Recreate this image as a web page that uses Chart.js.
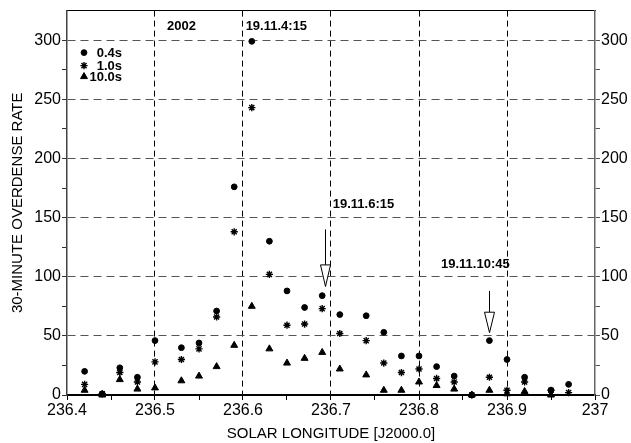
<!DOCTYPE html>
<html>
<head>
<meta charset="utf-8">
<script src="https://cdn.jsdelivr.net/npm/chart.js@4.4.1/dist/chart.umd.min.js"></script>
<style>
  html, body { margin: 0; padding: 0; background: #fff; }
  #wrap { width: 631px; height: 443px; }
</style>
</head>
<body>
<div id="wrap"><canvas id="rateChart" width="631" height="443"></canvas></div>
<script>
'use strict';

// solar longitude of each 30-minute bin
let longitudes = [236.42, 236.44, 236.46, 236.48, 236.50, 236.53, 236.55, 236.57, 236.59, 236.61,
  236.63, 236.65, 236.67, 236.69, 236.71, 236.74, 236.76, 236.78, 236.80, 236.82,
  236.84, 236.86, 236.88, 236.90, 236.92, 236.95, 236.97];

let rate04 = [20, 1, 23, 15, 46, 40, 44, 71, 176, 299, 130, 88, 74, 84, 68, 67, 53, 33, 33, 24,
  16, 0, 46, 30, 15, 4, 9];
let rate10 = [9, 1, 19, 11, 28, 30, 39, 66, 138, 243, 102, 59, 60, 73, 52, 46, 27, 19, 22, 14,
  11, 0, 15, 4, 11, 4, 2];
let rate100 = [4, 0, 13, 5, 6, 12, 16, 24, 42, 75, 39, 27, 31, 36, 22, 17, 4, 4, 11, 8,
  5, 0, 4, 1, 3, 0, null];

let seriesNames = ['0.4s', '1.0s', '10.0s'];

// [text, longitude, rate, align]
let notes = [
  ['2002', 236.53, 312, 'center'],
  ['19.11.4:15', 236.603, 312, 'left'],
  ['19.11.6:15', 236.702, 161, 'left'],
  ['19.11.10:45', 236.825, 110.6, 'left']
];
// [longitude, shaft top, head top, tip]
let arrows = [
  [236.6935, 140, 110, 91.7],
  [236.8795, 88, 70, 52.7]
];

let xMin = 236.4;
let xMax = 237;
let yMax = 325;

const FONT = '"Liberation Sans", Arial, Helvetica, sans-serif';

function toPoints(values) {
  let pts = [];
  for (let i = 0; i < longitudes.length; i++) {
    if (values[i] !== null) {
      pts.push({ x: longitudes[i], y: values[i] });
    }
  }
  return pts;
}

function isMajorX(v) {
  let n = Math.round(v * 100);
  return n % 10 === 0;
}

let markerKey = {
  id: 'markerKey',
  afterDatasetsDraw(chart) {
    let ctx = chart.ctx;
    let area = chart.chartArea;
    let rows = [42, 55, 66];
    ctx.save();
    ctx.fillStyle = '#000';
    ctx.strokeStyle = '#000';
    ctx.font = 'bold 13px ' + FONT;
    ctx.textAlign = 'right';
    ctx.textBaseline = 'middle';
    chart.data.datasets.forEach((ds, i) => {
      let y = area.top + rows[i];
      ctx.lineWidth = ds.borderWidth;
      Chart.helpers.drawPoint(ctx, {
        pointStyle: ds.pointStyle,
        radius: ds.pointRadius,
        rotation: 0,
        borderWidth: ds.borderWidth
      }, area.left + 17, y);
      ctx.fillText(seriesNames[i], area.left + 55, y + 1);
    });
    ctx.restore();
  }
};

let noteLayer = {
  id: 'noteLayer',
  afterDatasetsDraw(chart) {
    let ctx = chart.ctx;
    let xs = chart.scales.x;
    let ys = chart.scales.y;
    ctx.save();
    ctx.fillStyle = '#000';
    ctx.font = 'bold 13px ' + FONT;
    ctx.textBaseline = 'middle';
    for (let i = 0; i < notes.length; i++) {
      ctx.textAlign = notes[i][3];
      ctx.fillText(notes[i][0], xs.getPixelForValue(notes[i][1]), ys.getPixelForValue(notes[i][2]));
    }
    ctx.strokeStyle = '#000';
    ctx.lineWidth = 1;
    for (let i = 0; i < arrows.length; i++) {
      let x = Math.round(xs.getPixelForValue(arrows[i][0])) + 0.5;
      let yTop = ys.getPixelForValue(arrows[i][1]);
      let yHead = ys.getPixelForValue(arrows[i][2]);
      let yTip = ys.getPixelForValue(arrows[i][3]);
      ctx.beginPath();
      ctx.moveTo(x, yTop);
      ctx.lineTo(x, yHead);
      ctx.stroke();
      ctx.beginPath();
      ctx.moveTo(x - 5, yHead);
      ctx.lineTo(x + 5, yHead);
      ctx.lineTo(x, yTip);
      ctx.closePath();
      ctx.fillStyle = '#fff';
      ctx.fill();
      ctx.stroke();
    }
    ctx.restore();
  }
};

let yTicks = {
  min: 0,
  max: yMax,
  ticks: {
    stepSize: 25,
    autoSkip: false,
    color: '#000',
    font: { family: FONT, size: 16 },
    padding: 1,
    callback: (v) => (v % 50 === 0 && v <= 300 ? String(v) : '')
  }
};

let ctx = document.getElementById('rateChart').getContext('2d');
// eslint-disable-next-line no-unused-vars
let rateChart = new Chart(ctx, {
  type: 'scatter',
  data: {
    datasets: [{
      label: seriesNames[0],
      data: toPoints(rate04),
      pointStyle: 'circle',
      pointRadius: 2.9,
      borderWidth: 1,
      backgroundColor: '#000',
      borderColor: '#000',
      clip: false
    }, {
      label: seriesNames[1],
      data: toPoints(rate10),
      pointStyle: 'star',
      pointRadius: 3.6,
      borderWidth: 1.4,
      backgroundColor: '#000',
      borderColor: '#000',
      clip: false
    }, {
      label: seriesNames[2],
      data: toPoints(rate100),
      pointStyle: 'triangle',
      pointRadius: 4,
      borderWidth: 1,
      backgroundColor: '#000',
      borderColor: '#000',
      clip: false
    }]
  },
  options: {
    responsive: false,
    devicePixelRatio: 1,
    animation: false,
    layout: { padding: 0 },
    plugins: {
      legend: { display: false },
      tooltip: { enabled: false }
    },
    scales: {
      x: {
        type: 'linear',
        position: 'bottom',
        min: xMin,
        max: xMax,
        ticks: {
          stepSize: 0.05,
          autoSkip: false,
          maxRotation: 0,
          color: '#000',
          font: { family: FONT, size: 16 },
          padding: 1,
          callback: (v) => (isMajorX(v) ? String(Number(v.toFixed(1))) : '')
        },
        grid: {
          color: (c) => (c.tick && isMajorX(c.tick.value) && c.tick.value > xMin + 0.01 && c.tick.value < xMax - 0.01 ? '#000' : 'rgba(0,0,0,0)'),
          tickColor: '#000',
          tickLength: 5,
          lineWidth: 1
        },
        border: { color: '#000', width: 2, dash: [6, 4] },
        title: {
          display: true,
          text: 'SOLAR LONGITUDE [J2000.0]',
          color: '#000',
          font: { family: FONT, size: 15 },
          padding: { top: 0, bottom: 0 }
        },
        afterFit: (s) => { s.height = 48; }
      },
      xTop: {
        type: 'linear',
        position: 'top',
        min: xMin,
        max: xMax,
        ticks: { display: false },
        grid: { display: false },
        border: { color: '#000', width: 1 },
        afterFit: (s) => { s.height = 5; }
      },
      y: Object.assign({}, yTicks, {
        position: 'left',
        grid: {
          color: (c) => (c.tick && c.tick.value > 0 && c.tick.value <= 300 && c.tick.value % 50 === 0 ? '#555' : 'rgba(0,0,0,0)'),
          tickColor: (c) => (c.tick && c.tick.value <= 300 ? '#333' : 'rgba(0,0,0,0)'),
          tickLength: 5,
          lineWidth: 1
        },
        border: { color: '#444', width: 1.5, dash: [8, 5] },
        title: {
          display: true,
          text: '30-MINUTE OVERDENSE RATE',
          color: '#000',
          font: { family: FONT, size: 15 },
          padding: { top: 9, bottom: 0 }
        },
        afterFit: (s) => { s.width = 67; }
      }),
      yRight: Object.assign({}, yTicks, {
        position: 'right',
        grid: {
          drawOnChartArea: false,
          tickColor: (c) => (c.tick && c.tick.value <= 300 ? '#555' : 'rgba(0,0,0,0)'),
          tickLength: 5
        },
        border: { color: '#666', width: 1.5 },
        afterFit: (s) => { s.width = 36; }
      })
    }
  },
  plugins: [markerKey, noteLayer]
});
</script>
</body>
</html>
